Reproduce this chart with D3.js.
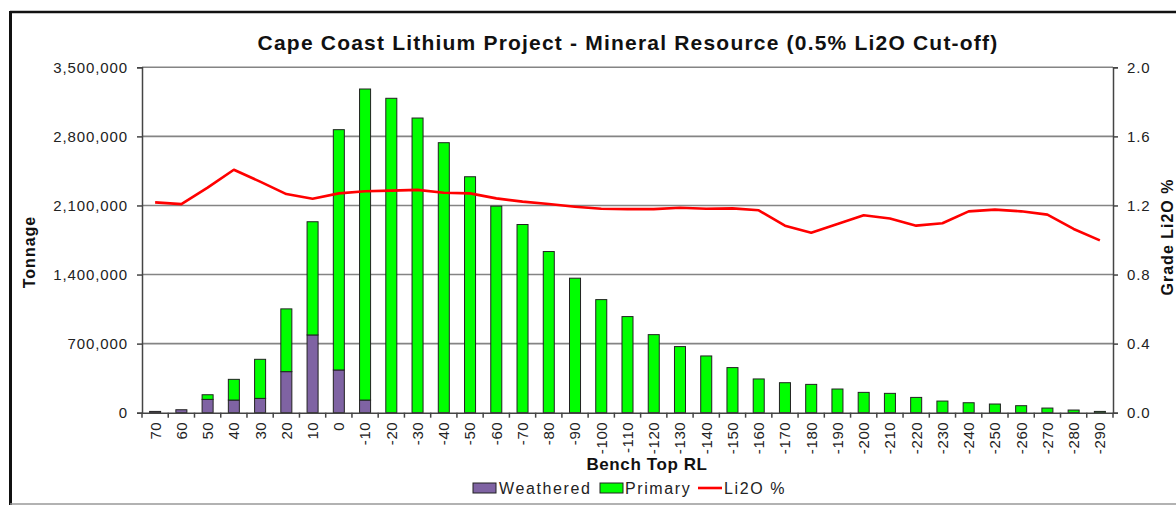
<!DOCTYPE html>
<html>
<head>
<meta charset="utf-8">
<script src="https://cdn.jsdelivr.net/npm/d3@7"></script>
<style>
  html, body { margin: 0; padding: 0; background: #fff; }
  svg { display: block; font-family: "Liberation Sans", Arial, sans-serif; }
</style>
</head>
<body>
<svg id="chart" width="1176" height="505"></svg>
<script>
const categories = ["70","60","50","40","30","20","10","0","-10","-20","-30","-40","-50","-60","-70","-80","-90","-100","-110","-120","-130","-140","-150","-160","-170","-180","-190","-200","-210","-220","-230","-240","-250","-260","-270","-280","-290"];
const weathered = [13000,30000,135000,128000,145000,416000,788000,433000,128000,0,0,0,0,0,0,0,0,0,0,0,0,0,0,0,0,0,0,0,0,0,0,0,0,0,0,0,0];
const primary = [0,0,47000,210000,396000,636000,1147000,2435000,3152000,3186000,2986000,2736000,2391000,2093000,1907000,1633000,1363000,1146000,974000,791000,670000,575000,457000,342000,304000,287000,240000,206000,196000,155000,118000,101000,88000,71000,47000,27000,13000];
const grade = [1.218,1.208,1.303,1.407,1.338,1.266,1.239,1.270,1.282,1.286,1.290,1.274,1.270,1.241,1.222,1.208,1.193,1.181,1.179,1.179,1.187,1.181,1.183,1.172,1.083,1.042,1.093,1.143,1.124,1.083,1.097,1.166,1.176,1.166,1.147,1.064,0.998];
const tonnageTicks = [0,700000,1400000,2100000,2800000,3500000];
const gradeTicks = [0,0.4,0.8,1.2,1.6,2.0];
const seriesNames = ["Weathered","Primary","Li2O %"];

const svg = d3.select("#chart");
const L = 142, R = 1113, T = 67.3, B = 412.7;

const x = d3.scaleBand().domain(categories).range([L, R]).paddingInner(0).paddingOuter(0);
const yL = d3.scaleLinear().domain([0, 3500000]).range([B, T]);
const yR = d3.scaleLinear().domain([0, 2]).range([B, T]);
const barW = x.bandwidth() * 0.42;

// frame
svg.append("line").attr("x1",10).attr("x2",1176).attr("y1",12).attr("y2",12).attr("stroke","#111").attr("stroke-width",2.5);
svg.append("line").attr("x1",10.5).attr("x2",10.5).attr("y1",11).attr("y2",505).attr("stroke","#111").attr("stroke-width",3);
svg.append("line").attr("x1",10).attr("x2",1176).attr("y1",504).attr("y2",504).attr("stroke","#999").attr("stroke-width",1.5);

// gridlines
svg.append("g").selectAll("line").data(tonnageTicks.filter(d=>d>0)).join("line")
  .attr("x1", L).attr("x2", R).attr("y1", d=>yL(d)).attr("y2", d=>yL(d))
  .attr("stroke", "#848484").attr("stroke-width", 1.6);

// bars
const stack = categories.map((c,i)=>({c, w: weathered[i], p: primary[i]}));
const gBars = svg.append("g");
gBars.selectAll("rect.w").data(stack.filter(d=>d.w>0)).join("rect").attr("class","w")
  .attr("x", d=>x(d.c) + (x.bandwidth()-barW)/2).attr("width", barW)
  .attr("y", d=>yL(d.w)).attr("height", d=>yL(0)-yL(d.w))
  .attr("fill", "#7f63a3").attr("stroke", "#222").attr("stroke-width", 1);
gBars.selectAll("rect.p").data(stack.filter(d=>d.p>0)).join("rect").attr("class","p")
  .attr("x", d=>x(d.c) + (x.bandwidth()-barW)/2).attr("width", barW)
  .attr("y", d=>yL(d.w + d.p)).attr("height", d=>yL(d.w)-yL(d.w+d.p))
  .attr("fill", "#00ff00").attr("stroke", "#222").attr("stroke-width", 1);

// line
const line = d3.line().x((d,i)=>x(categories[i]) + x.bandwidth()/2).y(d=>yR(d));
svg.append("path").datum(grade).attr("d", line).attr("fill","none").attr("stroke","#ff0000").attr("stroke-width",2.6).attr("stroke-linejoin","round");

// left axis
const axL = svg.append("g").attr("transform", `translate(${L},0)`)
  .call(d3.axisLeft(yL).tickValues(tonnageTicks).tickFormat(d3.format(",")).tickSize(5).tickPadding(9));
// right axis
const axR = svg.append("g").attr("transform", `translate(${R},0)`)
  .call(d3.axisRight(yR).tickValues(gradeTicks).tickFormat(d3.format(".1f")).tickSize(5).tickPadding(9));
[axL, axR].forEach(a => {
  a.select(".domain").attr("stroke","#444").attr("stroke-width",1.5);
  a.selectAll(".tick line").attr("stroke","#444").attr("stroke-width",1.5);
  a.selectAll(".tick text").attr("font-size",15).attr("fill","#222").style("letter-spacing","0.9px").attr("font-family",null);
});
// bottom axis
const axB = svg.append("g").attr("transform", `translate(0,${B})`)
  .call(d3.axisBottom(x).tickSize(0).tickPadding(0));
axB.select(".domain").attr("stroke","#444").attr("stroke-width",1.5);
axB.selectAll(".tick text")
  .attr("y", null).attr("dy", "0.36em").attr("x", null)
  .attr("transform", "translate(0,9) rotate(-90)")
  .attr("text-anchor", "end").attr("font-size", 15).attr("fill","#222").attr("font-family",null)
  .style("letter-spacing","0.6px");
// boundary ticks
axB.append("g").selectAll("line").data(categories.concat(["__end"])).join("line")
  .attr("x1", d=> d==="__end" ? R : x(d)).attr("x2", d=> d==="__end" ? R : x(d))
  .attr("y1", 0).attr("y2", 5).attr("stroke","#444").attr("stroke-width",1.5);

// titles
svg.append("text").attr("x", 628).attr("y", 50).attr("text-anchor","middle")
  .attr("font-size", 21).attr("font-weight","bold").attr("fill","#111").style("letter-spacing","1.2px")
  .text("Cape Coast Lithium Project - Mineral Resource (0.5% Li2O Cut-off)");
svg.append("text").attr("transform","translate(35,252) rotate(-90)").attr("text-anchor","middle")
  .attr("font-size",16).attr("font-weight","bold").attr("fill","#111").style("letter-spacing","1px").text("Tonnage");
svg.append("text").attr("transform","translate(1173,237) rotate(-90)").attr("text-anchor","middle")
  .attr("font-size",16).attr("font-weight","bold").attr("fill","#111").style("letter-spacing","1px").text("Grade Li2O %");
svg.append("text").attr("x", 647).attr("y", 470).attr("text-anchor","middle")
  .attr("font-size",17).attr("font-weight","bold").attr("fill","#111").style("letter-spacing","0.6px").text("Bench Top RL");

// legend
const lg = svg.append("g").attr("font-size",16).attr("fill","#222");
const legendItems = [
  {name: seriesNames[0], type:"rect", fill:"#7f63a3", sx:473, tx:499},
  {name: seriesNames[1], type:"rect", fill:"#00ff00", sx:600, tx:625},
  {name: seriesNames[2], type:"line", fill:"#ff0000", sx:698, tx:724}
];
legendItems.forEach(it => {
  if (it.type === "rect") {
    lg.append("rect").attr("x", it.sx).attr("y", 483).attr("width", 23).attr("height", 10)
      .attr("fill", it.fill).attr("stroke","#222").attr("stroke-width",1);
  } else {
    lg.append("line").attr("x1", it.sx).attr("x2", it.sx+24).attr("y1", 488).attr("y2", 488)
      .attr("stroke", it.fill).attr("stroke-width", 2.6);
  }
  lg.append("text").attr("x", it.tx).attr("y", 494).style("letter-spacing","1.6px").text(it.name);
});
</script>
</body>
</html>
